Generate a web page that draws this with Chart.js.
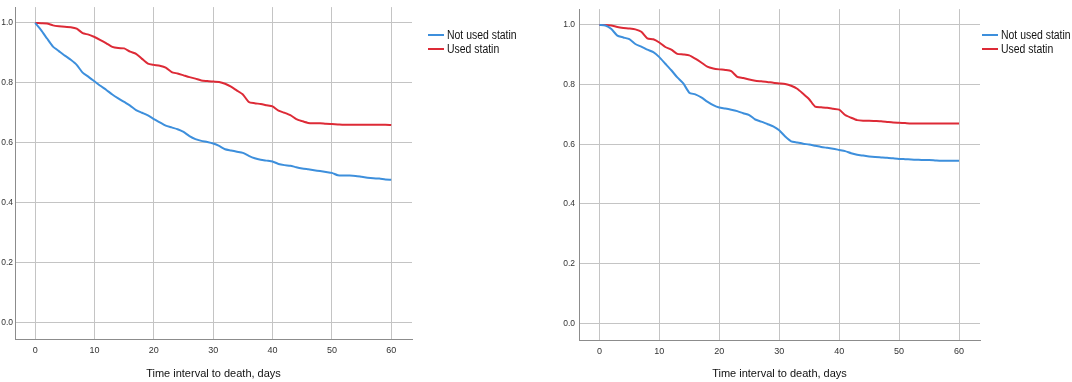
<!DOCTYPE html>
<html>
<head>
<meta charset="utf-8">
<script src="https://cdn.jsdelivr.net/npm/chart.js@4"></script>
<style>
  body { margin: 0; background: #fff; width: 1072px; height: 382px; overflow: hidden; position: relative; }
  canvas { position: absolute; top: 0; }
  #left { left: 0; }
  #right { left: 540px; }
</style>
</head>
<body>
<canvas id="left" width="540" height="382"></canvas>
<canvas id="right" width="532" height="382"></canvas>
<script>
// Days 0..60
const days = [0,1,2,3,4,5,6,7,8,9,10,11,12,13,14,15,16,17,18,19,20,21,22,23,24,25,26,27,28,29,30,
  31,32,33,34,35,36,37,38,39,40,41,42,43,44,45,46,47,48,49,50,51,52,53,54,55,56,57,58,59,60];
const xTicks = [0, 10, 20, 30, 40, 50, 60];
const yTicks = [0, 0.2, 0.4, 0.6, 0.8, 1.0];
const seriesLabels = ['Not used statin', 'Used statin'];
const xTitle = 'Time interval to death, days';

// Left panel
const notUsedLeft = [1.000,0.976,0.948,0.921,0.906,0.891,0.877,0.860,0.834,0.820,0.805,0.790,0.776,0.761,0.748,0.736,
  0.724,0.709,0.700,0.691,0.679,0.668,0.657,0.651,0.645,0.636,0.622,0.612,0.606,0.602,0.597,
  0.589,0.578,0.574,0.570,0.566,0.556,0.548,0.543,0.540,0.537,0.529,0.525,0.523,0.518,0.514,
  0.511,0.508,0.505,0.502,0.499,0.491,0.490,0.490,0.489,0.486,0.483,0.481,0.480,0.477,0.476];
const usedLeft = [1.000,0.999,0.998,0.992,0.989,0.987,0.986,0.981,0.966,0.961,0.953,0.943,0.932,0.920,0.916,0.915,
  0.904,0.897,0.880,0.864,0.860,0.857,0.851,0.836,0.831,0.825,0.819,0.814,0.808,0.806,0.804,
  0.803,0.797,0.787,0.774,0.761,0.736,0.732,0.729,0.725,0.721,0.707,0.700,0.692,0.679,0.672,
  0.666,0.665,0.665,0.663,0.662,0.661,0.660,0.660,0.660,0.660,0.660,0.660,0.660,0.660,0.659];

// Right panel
const notUsedRight = [1.000,0.998,0.986,0.964,0.958,0.952,0.936,0.927,0.917,0.909,0.892,0.870,0.848,0.824,0.804,0.773,
  0.767,0.757,0.743,0.731,0.723,0.720,0.716,0.711,0.704,0.698,0.683,0.676,0.668,0.660,0.647,
  0.626,0.610,0.606,0.602,0.599,0.595,0.591,0.588,0.585,0.581,0.577,0.570,0.565,0.562,0.559,
  0.557,0.556,0.555,0.553,0.551,0.550,0.549,0.548,0.547,0.547,0.546,0.545,0.545,0.545,0.545];
const usedRight = [1.000,1.000,0.998,0.993,0.990,0.988,0.985,0.977,0.955,0.952,0.941,0.926,0.917,0.903,0.901,0.898,
  0.887,0.874,0.860,0.854,0.851,0.849,0.845,0.826,0.822,0.817,0.813,0.811,0.809,0.806,0.804,
  0.802,0.796,0.786,0.769,0.751,0.726,0.724,0.722,0.719,0.716,0.698,0.689,0.681,0.679,0.679,
  0.678,0.677,0.675,0.673,0.672,0.671,0.670,0.670,0.670,0.670,0.670,0.670,0.670,0.670,0.670];

const blue = '#3d8fdc';
const red = '#dd2a36';
const font = "'Liberation Sans', Arial, sans-serif";

// simple legend drawn to the right of the plot (text squeezed a bit like the original)
const sideLegend = {
  id: 'sideLegend',
  afterDraw(chart, args, opts) {
    const ctx = chart.ctx;
    ctx.save();
    ctx.font = '12px ' + font;
    ctx.textBaseline = 'middle';
    ctx.fillStyle = '#111';
    chart.data.datasets.forEach((ds, i) => {
      const y = opts.y + i * 14;
      ctx.strokeStyle = ds.borderColor;
      ctx.lineWidth = 2;
      ctx.beginPath();
      ctx.moveTo(opts.x, y);
      ctx.lineTo(opts.x + 16, y);
      ctx.stroke();
      ctx.save();
      ctx.translate(opts.x + 19, y + 1);
      ctx.scale(0.87, 1);
      ctx.fillText(ds.label, 0, 0);
      ctx.restore();
    });
    ctx.restore();
  }
};

function makeChart(id, notUsed, used, geo) {
  const toPts = arr => days.map((d, i) => ({ x: d, y: arr[i] }));
  return new Chart(document.getElementById(id), {
    type: 'line',
    data: {
      datasets: [
        { label: seriesLabels[0], data: toPts(notUsed), borderColor: blue, borderWidth: 2, pointRadius: 0, tension: 0.2 },
        { label: seriesLabels[1], data: toPts(used), borderColor: red, borderWidth: 2, pointRadius: 0, tension: 0.2 }
      ]
    },
    options: {
      responsive: false,
      animation: false,
      layout: { padding: { top: geo.top, right: geo.right, left: 0, bottom: 0 } },
      plugins: {
        legend: { display: false },
        tooltip: { enabled: false },
        sideLegend: { x: geo.legX, y: 35 }
      },
      scales: {
        x: {
          type: 'linear',
          min: -3.4, max: 63.5,
          afterBuildTicks: axis => { axis.ticks = xTicks.map(v => ({ value: v })); },
          afterFit: axis => { axis.height = geo.xh; },
          grid: { color: '#c4c4c4', drawTicks: false },
          border: { color: '#8c8c8c' },
          ticks: { font: { family: font, size: 9 }, color: '#333', padding: 6 },
          title: { display: true, text: xTitle, font: { family: font, size: 11 }, color: '#111', padding: { top: 0, bottom: 1 } }
        },
        y: {
          min: -0.056, max: 1.053,
          afterBuildTicks: axis => { axis.ticks = yTicks.map(v => ({ value: v })); },
          afterFit: axis => { axis.width = geo.yw; },
          grid: { color: '#c4c4c4', drawTicks: false },
          border: { color: '#8c8c8c' },
          ticks: { font: { family: font, size: 8.5 }, color: '#333', padding: geo.ypad, callback: v => v.toFixed(1) }
        }
      }
    },
    plugins: [sideLegend]
  });
}

makeChart('left', notUsedLeft, usedLeft, { top: 5, right: 128, xh: 43, yw: 15, ypad: 2, legX: 428 });
makeChart('right', notUsedRight, usedRight, { top: 3, right: 92, xh: 42, yw: 39, ypad: 4, legX: 442 });
</script>
</body>
</html>
